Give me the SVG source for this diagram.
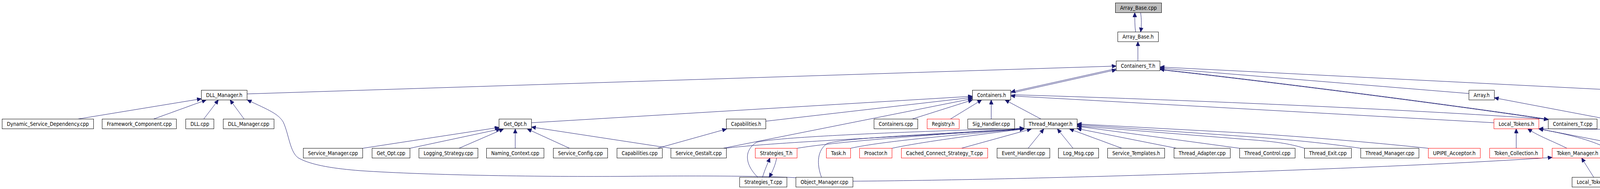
<svg xmlns="http://www.w3.org/2000/svg" width="4853" height="485" viewBox="0 0 4853 485">
<style>
.n rect{fill:#fff;stroke:#000;stroke-width:1}
.n.r rect{stroke:#f00}
.n.g rect{fill:#bfbfbf}
.n text{font-family:"DejaVu Sans","Liberation Sans",sans-serif;font-size:13.5px;text-anchor:middle;fill:#000}
#edges path{fill:none;stroke:#191970;stroke-width:1;marker-end:url(#a)}
</style>
<defs>
<marker id="a" markerUnits="userSpaceOnUse" markerWidth="12" markerHeight="11" refX="11" refY="5" orient="auto"><path d="M0,0 L11,5 L0,10 z" fill="#191970" stroke="#191970" stroke-width="1"/></marker>
</defs>
<rect width="4853" height="485" fill="#fff"/>
<g id="edges">
<path d="M2907,82 C2905,66 2905,50 2905,32.5"/>
<path d="M2920,32.5 C2922.5,50 2922.5,66 2920,82"/>
<path d="M2913,156.5 L2913,107"/>
<path d="M632.5,241 L2857.5,169.5"/>
<path d="M2588,239 L2857.5,179"/>
<path d="M2857.5,176 L2588,236"/>
<path d="M4291.5,239 L2969.5,172"/>
<path d="M3760.5,240 L2969.5,175"/>
<path d="M3963.5,306 C3700,266 3200,203 2969.5,178"/>
<path d="M2969.5,179 C3200,204 3700,267 3963.5,307"/>
<path d="M2587.5,243 C3000,255 3600,280 3963.5,306"/>
<path d="M3824.5,315 L2587.5,246"/>
<path d="M4112.5,305.5 L3825.5,251"/>
<path d="M1360.5,315 L2489.5,247"/>
<path d="M1960.5,311 L2489.5,250"/>
<path d="M1851,380.5 L2489.5,253"/>
<path d="M2335,305.5 L2489.5,256.5"/>
<path d="M2433,305.5 L2513,256.5"/>
<path d="M2537.5,305.5 L2537.5,256.5"/>
<path d="M2665,305.5 L2573,256.5"/>
<path d="M199,305.5 L515.5,253.5"/>
<path d="M393,305.5 L528,256.5"/>
<path d="M521.5,305.5 L559,256.5"/>
<path d="M625,305.5 L589,256.5"/>
<path d="M2037.5,456 C1950,451 1750,451 1600,452.5 C1400,454 1100,450 922,438 C860,433 800,425 765,406 C742,392 740,345 725,313 C712,292 690,283 633,256.5"/>
<path d="M928.5,380.5 L1277.5,327"/>
<path d="M1049.5,380.5 L1281,331"/>
<path d="M1175,380.5 L1289,331"/>
<path d="M1319,380.5 L1319,331"/>
<path d="M1458,380.5 L1350,331"/>
<path d="M1717.5,380.5 L1360.5,326"/>
<path d="M1683,380.5 L1860,331"/>
<path d="M1857,380.5 C1980,365 2300,352 2621.5,331"/>
<path d="M1940,455 C1905,420 1905,385 1937,365 C2000,350 2350,337 2621.5,329"/>
<path d="M2040.5,380.5 C2150,362 2400,345 2621.5,330"/>
<path d="M2103,455 C2090,420 2092,385 2118,368 C2160,354 2400,344 2621.5,330"/>
<path d="M2177.5,380.5 C2260,362 2450,346 2621.5,331"/>
<path d="M2283.5,380.5 C2360,364 2500,346 2621.5,331"/>
<path d="M2461,380.5 L2640,331"/>
<path d="M2632,380.5 L2672,331"/>
<path d="M2747,380.5 L2707,331"/>
<path d="M2872,380.5 L2738,331"/>
<path d="M3012,380.5 L2757.5,330"/>
<path d="M3173.5,380.5 L2757.5,324"/>
<path d="M3339.5,380.5 C3300,368 3260,363 3200,358.5 L2757.5,323"/>
<path d="M3483.5,380.5 C3400,368 3300,358 3200,351 L2757.5,320"/>
<path d="M3656.5,380.5 C3500,364 3350,352 3200,342 L2757.5,318"/>
<path d="M1952,455 C1958,435 1965,420 1971,405.5"/>
<path d="M1988,405.5 C1986,420 1978,440 1969,455"/>
<path d="M2183.5,465 C2600,462 3500,436 3973.5,404"/>
<path d="M3881.5,380.5 L3881.5,330.5"/>
<path d="M4011.5,380.5 C3970,360 3940,350 3911,330.5"/>
<path d="M4196.5,380.5 L3939.5,330.5"/>
<path d="M4098,455 C4115,420 4125,388 4105,376 C4060,355 4000,342 3939.5,331"/>
<path d="M4331.5,455 C4350,425 4365,400 4355,383 C4345,366 4320,352 4283,341 C4230,333 4100,331 3939.5,330.5"/>
<path d="M4080,455 L4049,405.5"/>
<path d="M4308,455 L4271,405.5"/>
<path d="M4419,380.5 C4380,368 4340,365 4310,352 C4275,336 4258,312 4268,294 C4278,276 4300,266 4330,256.5"/>
<path d="M4533,380.5 L4587,330.5"/>
<path d="M4723.5,380.5 L4628,330.5"/>
<path d="M4748,380.5 C4746,345 4740,315 4724,303 C4705,288 4680,280 4640,272 C4580,260 4510,252 4465.5,247"/>
<path d="M4566,305.5 L4420,256.5"/>
<path d="M4377,305.5 L4377,256.5"/>
</g>
<g id="n_abcpp" class="n g"><rect x="2855.5" y="7.5" width="118" height="25"/><text x="2914.5" y="24.5" textLength="94" lengthAdjust="spacingAndGlyphs">Array_Base.cpp</text></g>
<g id="n_abh" class="n"><rect x="2861.5" y="82" width="104" height="25"/><text x="2913.5" y="99" textLength="80" lengthAdjust="spacingAndGlyphs">Array_Base.h</text></g>
<g id="n_cth" class="n"><rect x="2857.5" y="156.5" width="112" height="25"/><text x="2913.5" y="173.5" textLength="88" lengthAdjust="spacingAndGlyphs">Containers_T.h</text></g>
<g id="n_dllmh" class="n"><rect x="515.5" y="231.5" width="117" height="25"/><text x="574" y="248.5" textLength="93" lengthAdjust="spacingAndGlyphs">DLL_Manager.h</text></g>
<g id="n_ch" class="n"><rect x="2489.5" y="231.5" width="98" height="25"/><text x="2538.5" y="248.5" textLength="74" lengthAdjust="spacingAndGlyphs">Containers.h</text></g>
<g id="n_arrh" class="n"><rect x="3760.5" y="231.5" width="65" height="25"/><text x="3793" y="248.5" textLength="41" lengthAdjust="spacingAndGlyphs">Array.h</text></g>
<g id="n_mih" class="n"><rect x="4291.5" y="231.5" width="174" height="25"/><text x="4378.5" y="248.5" textLength="150" lengthAdjust="spacingAndGlyphs">Multihomed_INET_Addr.h</text></g>
<g id="n_dsd" class="n"><rect x="5.5" y="305.5" width="234" height="25"/><text x="122.5" y="322.5" textLength="210" lengthAdjust="spacingAndGlyphs">Dynamic_Service_Dependency.cpp</text></g>
<g id="n_fc" class="n"><rect x="261.5" y="305.5" width="190" height="25"/><text x="356.5" y="322.5" textLength="166" lengthAdjust="spacingAndGlyphs">Framework_Component.cpp</text></g>
<g id="n_dll" class="n"><rect x="475.5" y="305.5" width="72" height="25"/><text x="511.5" y="322.5" textLength="48" lengthAdjust="spacingAndGlyphs">DLL.cpp</text></g>
<g id="n_dllmcpp" class="n"><rect x="571.5" y="305.5" width="130" height="25"/><text x="636.5" y="322.5" textLength="106" lengthAdjust="spacingAndGlyphs">DLL_Manager.cpp</text></g>
<g id="n_goh" class="n"><rect x="1277.5" y="305.5" width="83" height="25"/><text x="1319" y="322.5" textLength="59" lengthAdjust="spacingAndGlyphs">Get_Opt.h</text></g>
<g id="n_caph" class="n"><rect x="1859.5" y="305.5" width="101" height="25"/><text x="1910" y="322.5" textLength="77" lengthAdjust="spacingAndGlyphs">Capabilities.h</text></g>
<g id="n_ccpp" class="n"><rect x="2237.5" y="305.5" width="112" height="25"/><text x="2293.5" y="322.5" textLength="88" lengthAdjust="spacingAndGlyphs">Containers.cpp</text></g>
<g id="n_reg" class="n r"><rect x="2373.5" y="305.5" width="82" height="25"/><text x="2414.5" y="322.5" textLength="58" lengthAdjust="spacingAndGlyphs">Registry.h</text></g>
<g id="n_sig" class="n"><rect x="2477.5" y="305.5" width="120" height="25"/><text x="2537.5" y="322.5" textLength="96" lengthAdjust="spacingAndGlyphs">Sig_Handler.cpp</text></g>
<g id="n_tmh" class="n"><rect x="2621.5" y="305.5" width="136" height="25"/><text x="2689.5" y="322.5" textLength="112" lengthAdjust="spacingAndGlyphs">Thread_Manager.h</text></g>
<g id="n_lth" class="n r"><rect x="3824.5" y="305.5" width="115" height="25"/><text x="3882" y="322.5" textLength="91" lengthAdjust="spacingAndGlyphs">Local_Tokens.h</text></g>
<g id="n_ctcpp" class="n"><rect x="3963.5" y="305.5" width="125" height="25"/><text x="4026" y="322.5" textLength="101" lengthAdjust="spacingAndGlyphs">Containers_T.cpp</text></g>
<g id="n_vth" class="n r"><rect x="4112.5" y="305.5" width="87" height="25"/><text x="4156" y="322.5" textLength="63" lengthAdjust="spacingAndGlyphs">Vector_T.h</text></g>
<g id="n_micpp" class="n"><rect x="4284.5" y="305.5" width="188" height="25"/><text x="4378.5" y="322.5" textLength="164" lengthAdjust="spacingAndGlyphs">Multihomed_INET_Addr.cpp</text></g>
<g id="n_ssa" class="n r"><rect x="4495.5" y="305.5" width="217" height="25"/><text x="4604" y="322.5" textLength="193" lengthAdjust="spacingAndGlyphs">SOCK_SEQPACK_Association.h</text></g>
<g id="n_smcpp" class="n"><rect x="776.5" y="380.5" width="152" height="25"/><text x="852.5" y="397.5" textLength="128" lengthAdjust="spacingAndGlyphs">Service_Manager.cpp</text></g>
<g id="n_gocpp" class="n"><rect x="952.5" y="380.5" width="97" height="25"/><text x="1001" y="397.5" textLength="73" lengthAdjust="spacingAndGlyphs">Get_Opt.cpp</text></g>
<g id="n_lscpp" class="n"><rect x="1072.5" y="380.5" width="151" height="25"/><text x="1148" y="397.5" textLength="127" lengthAdjust="spacingAndGlyphs">Logging_Strategy.cpp</text></g>
<g id="n_nccpp" class="n"><rect x="1245.5" y="380.5" width="147" height="25"/><text x="1319" y="397.5" textLength="123" lengthAdjust="spacingAndGlyphs">Naming_Context.cpp</text></g>
<g id="n_sccpp" class="n"><rect x="1416.5" y="380.5" width="139" height="25"/><text x="1486" y="397.5" textLength="115" lengthAdjust="spacingAndGlyphs">Service_Config.cpp</text></g>
<g id="n_capcpp" class="n"><rect x="1579.5" y="380.5" width="116" height="25"/><text x="1637.5" y="397.5" textLength="92" lengthAdjust="spacingAndGlyphs">Capabilities.cpp</text></g>
<g id="n_sgcpp" class="n"><rect x="1717.5" y="380.5" width="142" height="25"/><text x="1788.5" y="397.5" textLength="118" lengthAdjust="spacingAndGlyphs">Service_Gestalt.cpp</text></g>
<g id="n_sth" class="n r"><rect x="1933.5" y="380.5" width="107" height="25"/><text x="1987" y="397.5" textLength="83" lengthAdjust="spacingAndGlyphs">Strategies_T.h</text></g>
<g id="n_task" class="n r"><rect x="2115.5" y="380.5" width="62" height="25"/><text x="2146.5" y="397.5" textLength="38" lengthAdjust="spacingAndGlyphs">Task.h</text></g>
<g id="n_pro" class="n r"><rect x="2200.5" y="380.5" width="83" height="25"/><text x="2242" y="397.5" textLength="59" lengthAdjust="spacingAndGlyphs">Proactor.h</text></g>
<g id="n_ccst" class="n r"><rect x="2307.5" y="380.5" width="221" height="25"/><text x="2418" y="397.5" textLength="197" lengthAdjust="spacingAndGlyphs">Cached_Connect_Strategy_T.cpp</text></g>
<g id="n_ehcpp" class="n"><rect x="2552.5" y="380.5" width="135" height="25"/><text x="2620" y="397.5" textLength="111" lengthAdjust="spacingAndGlyphs">Event_Handler.cpp</text></g>
<g id="n_lmcpp" class="n"><rect x="2709.5" y="380.5" width="103" height="25"/><text x="2761" y="397.5" textLength="79" lengthAdjust="spacingAndGlyphs">Log_Msg.cpp</text></g>
<g id="n_stemh" class="n"><rect x="2835.5" y="380.5" width="146" height="25"/><text x="2908.5" y="397.5" textLength="122" lengthAdjust="spacingAndGlyphs">Service_Templates.h</text></g>
<g id="n_tacpp" class="n"><rect x="3005.5" y="380.5" width="144" height="25"/><text x="3077.5" y="397.5" textLength="120" lengthAdjust="spacingAndGlyphs">Thread_Adapter.cpp</text></g>
<g id="n_tccpp" class="n"><rect x="3173.5" y="380.5" width="142" height="25"/><text x="3244.5" y="397.5" textLength="118" lengthAdjust="spacingAndGlyphs">Thread_Control.cpp</text></g>
<g id="n_tecpp" class="n"><rect x="3339.5" y="380.5" width="120" height="25"/><text x="3399.5" y="397.5" textLength="96" lengthAdjust="spacingAndGlyphs">Thread_Exit.cpp</text></g>
<g id="n_tmcpp" class="n"><rect x="3483.5" y="380.5" width="149" height="25"/><text x="3558" y="397.5" textLength="125" lengthAdjust="spacingAndGlyphs">Thread_Manager.cpp</text></g>
<g id="n_upipe" class="n r"><rect x="3656.5" y="380.5" width="133" height="25"/><text x="3723" y="397.5" textLength="109" lengthAdjust="spacingAndGlyphs">UPIPE_Acceptor.h</text></g>
<g id="n_tcolh" class="n r"><rect x="3813.5" y="380.5" width="136" height="25"/><text x="3881.5" y="397.5" textLength="112" lengthAdjust="spacingAndGlyphs">Token_Collection.h</text></g>
<g id="n_tmgrh" class="n r"><rect x="3973.5" y="380.5" width="130" height="25"/><text x="4038.5" y="397.5" textLength="106" lengthAdjust="spacingAndGlyphs">Token_Manager.h</text></g>
<g id="n_trrh" class="n r"><rect x="4176.5" y="380.5" width="165" height="25"/><text x="4259" y="397.5" textLength="141" lengthAdjust="spacingAndGlyphs">Token_Request_Reply.h</text></g>
<g id="n_ssc" class="n r"><rect x="4416.5" y="380.5" width="209" height="25"/><text x="4521" y="397.5" textLength="185" lengthAdjust="spacingAndGlyphs">SOCK_SEQPACK_Connector.h</text></g>
<g id="n_ssacc" class="n r"><rect x="4648.5" y="380.5" width="201" height="25"/><text x="4749" y="397.5" textLength="177" lengthAdjust="spacingAndGlyphs">SOCK_SEQPACK_Acceptor.h</text></g>
<g id="n_stcpp" class="n"><rect x="1893.5" y="455" width="121" height="25"/><text x="1954" y="472" textLength="97" lengthAdjust="spacingAndGlyphs">Strategies_T.cpp</text></g>
<g id="n_omcpp" class="n"><rect x="2037.5" y="455" width="146" height="25"/><text x="2110.5" y="472" textLength="122" lengthAdjust="spacingAndGlyphs">Object_Manager.cpp</text></g>
<g id="n_ltcpp" class="n"><rect x="4024.5" y="455" width="128" height="25"/><text x="4088.5" y="472" textLength="104" lengthAdjust="spacingAndGlyphs">Local_Tokens.cpp</text></g>
<g id="n_rth" class="n r"><rect x="4255.5" y="455" width="129" height="25"/><text x="4320" y="472" textLength="105" lengthAdjust="spacingAndGlyphs">Remote_Tokens.h</text></g>
</svg>
